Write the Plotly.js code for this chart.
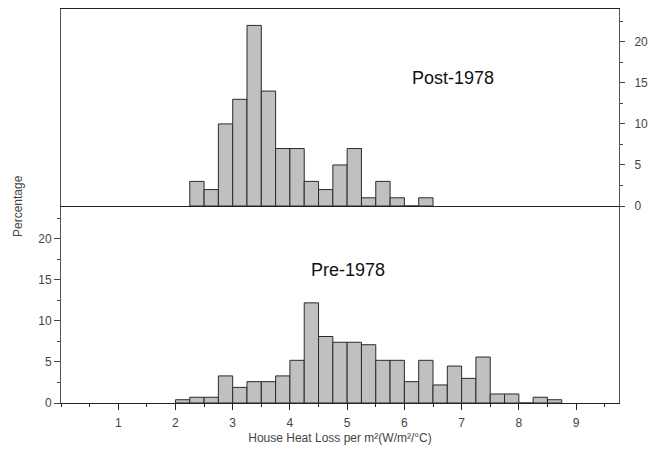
<!DOCTYPE html>
<html>
<head>
<meta charset="utf-8">
<script src="https://cdn.plot.ly/plotly-3.0.1.min.js"></script>
<style>html,body{margin:0;padding:0;background:#fff;}#chart{width:660px;height:458px;}</style>
</head>
<body>
<div id="chart"></div>
<script>
// Post-1978 histogram (percentage), bins of width 0.25 starting at 2.25
var postBinStart = [2.25, 2.5, 2.75, 3.0, 3.25, 3.5, 3.75, 4.0, 4.25, 4.5, 4.75, 5.0, 5.25, 5.5, 5.75, 6.0, 6.25];
var postPct      = [3, 2, 10, 13, 22, 14, 7, 7, 3, 2, 5, 7, 1, 3, 1, 0, 1];

// Pre-1978 histogram (percentage), bins of width 0.25 starting at 2.0
var preBinStart = [2.0, 2.25, 2.5, 2.75, 3.0, 3.25, 3.5, 3.75, 4.0, 4.25, 4.5, 4.75, 5.0, 5.25,
                   5.5, 5.75, 6.0, 6.25, 6.5, 6.75, 7.0, 7.25, 7.5, 7.75, 8.0, 8.25, 8.5];
var prePct      = [0.4, 0.7, 0.7, 3.3, 1.9, 2.6, 2.6, 3.3, 5.2, 12.2, 8.1, 7.4, 7.4, 7.1,
                   5.2, 5.2, 2.6, 5.2, 2.2, 4.5, 3.0, 5.6, 1.1, 1.1, 0, 0.7, 0.4];

var binWidth = 0.25;
var xTickVals = [1, 2, 3, 4, 5, 6, 7, 8, 9];
var yTickVals = [0, 5, 10, 15, 20];
var xTitle = 'House Heat Loss per m\u00b2(W/m\u00b2/\u00b0C)';
var yTitle = 'Percentage';
var postLabel = 'Post-1978';
var preLabel = 'Pre-1978';

var barStyle = {color: '#c0c0c0', line: {color: '#2a2a2a', width: 1}};
var tickFont = {family: 'Liberation Sans, Arial, sans-serif', size: 12, color: '#444'};

var traces = [
  {type: 'bar', x: preBinStart, y: prePct, width: preBinStart.map(function(){return binWidth;}),
   offset: 0, marker: barStyle, xaxis: 'x', yaxis: 'y', hoverinfo: 'x+y', showlegend: false},
  {type: 'bar', x: postBinStart, y: postPct, width: postBinStart.map(function(){return binWidth;}),
   offset: 0, marker: barStyle, xaxis: 'x2', yaxis: 'y2', hoverinfo: 'x+y', showlegend: false}
];

var axisLine = '#555';

var layout = {
  width: 660, height: 458,
  margin: {l: 61, r: 41, t: 9, b: 55},
  paper_bgcolor: '#fff', plot_bgcolor: '#fff',
  bargap: 0,
  font: tickFont,
  xaxis: {
    range: [0, 9.75], domain: [0, 1], anchor: 'y',
    tickmode: 'array', tickvals: xTickVals,
    ticks: 'outside', ticklen: 6, tickcolor: '#222', tickwidth: 1,
    ticklabelstandoff: 3,
    minor: {tickmode: 'linear', tick0: 0, dtick: 0.5, ticks: 'outside', ticklen: 3, tickcolor: '#222'},
    showline: true, linecolor: '#222', linewidth: 1, mirror: false,
    showgrid: false, zeroline: false, tickfont: tickFont,
    title: {text: xTitle, font: {family: 'Liberation Sans, Arial, sans-serif', size: 12, color: '#444'}, standoff: 4}
  },
  yaxis: {
    range: [0, 24], domain: [0, 0.5], anchor: 'x',
    tickmode: 'array', tickvals: yTickVals,
    ticks: 'outside', ticklen: 6, tickcolor: '#444',
    minor: {tickmode: 'linear', tick0: 0, dtick: 2.5, ticks: 'outside', ticklen: 3, tickcolor: '#444'},
    showline: true, linecolor: axisLine, linewidth: 1, mirror: true,
    showgrid: false, zeroline: false, tickfont: tickFont
  },
  xaxis2: {
    range: [0, 9.75], domain: [0, 1], anchor: 'y2', matches: 'x',
    showticklabels: false, ticks: '',
    showline: true, linecolor: '#222', linewidth: 1, mirror: true,
    showgrid: false, zeroline: false
  },
  yaxis2: {
    range: [0, 24], domain: [0.5, 1], anchor: 'x2', side: 'right',
    tickmode: 'array', tickvals: yTickVals,
    ticks: 'outside', ticklen: 5, tickcolor: '#444',
    ticklabelstandoff: 7,
    minor: {tickmode: 'linear', tick0: 0, dtick: 2.5, ticks: 'outside', ticklen: 3, tickcolor: '#444'},
    showline: true, linecolor: axisLine, linewidth: 1, mirror: true,
    showgrid: false, zeroline: false, tickfont: tickFont
  },
  annotations: [
    {text: postLabel, xref: 'x2', yref: 'y2', x: 6.85, y: 15.6, showarrow: false,
     font: {family: 'Liberation Sans, Arial, sans-serif', size: 18, color: '#111'}},
    {text: preLabel, xref: 'x', yref: 'y', x: 5.02, y: 16.2, showarrow: false,
     font: {family: 'Liberation Sans, Arial, sans-serif', size: 18, color: '#111'}},
    {text: yTitle, xref: 'paper', yref: 'paper', x: -0.077, y: 0.5, textangle: -90,
     showarrow: false, xanchor: 'center', yanchor: 'middle',
     font: {family: 'Liberation Sans, Arial, sans-serif', size: 12, color: '#444'}}
  ]
};

Plotly.newPlot('chart', traces, layout, {displayModeBar: false, staticPlot: true});
</script>
</body>
</html>
